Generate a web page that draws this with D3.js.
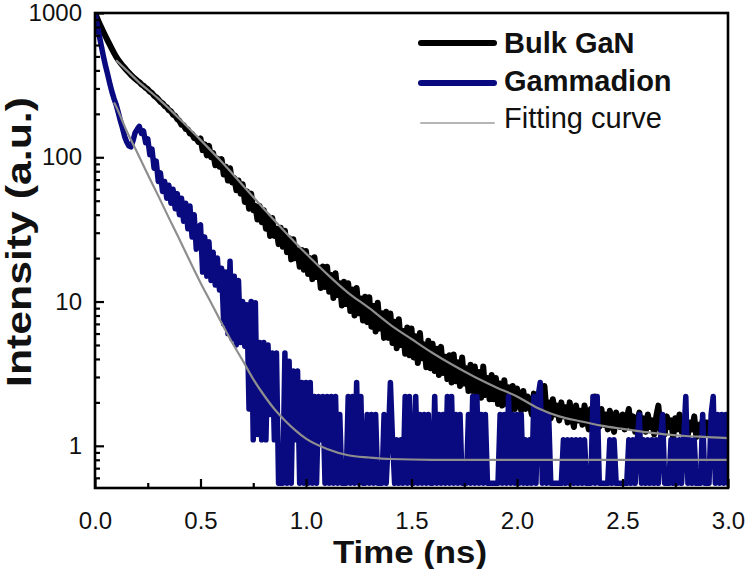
<!DOCTYPE html>
<html><head><meta charset="utf-8">
<script src="https://cdn.jsdelivr.net/npm/d3@7"></script>
<style>body{margin:0;background:#fff} svg{display:block} text{font-family:"Liberation Sans",Arial,sans-serif}</style>
</head><body><svg id="c" width="750" height="569"></svg>
<script>
// time step of the decay traces (ns)
const tStep = 0.01;
// Bulk GaN decay trace (a.u.), t = 0 .. 3 ns
const bulkGaN = [
1000, 925, 852, 792, 738, 690, 644, 603, 565, 530,
498, 473, 452, 434, 417, 401, 387, 373, 361, 350,
340, 332, 320, 313, 303, 296, 285, 279, 267, 261,
252, 242, 237, 227, 222, 212, 208, 197, 194, 184,
179, 168, 167, 157, 156, 146, 145, 136, 135, 128,
135, 112, 123, 103, 120, 100, 107, 88, 98, 86,
97, 76, 86, 69, 84, 67, 72, 59, 69, 56,
65, 49, 58, 44, 56, 43, 46, 37, 46, 35.5,
43, 32, 39, 28.5, 38, 28.5, 32, 25, 32.5, 24,
31, 22, 27.5, 19.6, 27, 20, 22.7, 17.4, 22.8, 16.6,
22.4, 15.5, 20, 14.3, 20.3, 14.8, 17.2, 12.4, 17.5, 12.6,
17.4, 11.7, 15.3, 10.6, 15.7, 11.1, 13.4, 9.4, 13.7, 9.6,
13.4, 8.6, 12.1, 8.0, 12.4, 8.3, 10.5, 7.4, 10.8, 7.2,
10.7, 6.7, 9.3, 6.2, 9.8, 6.5, 8.3, 5.6, 8.5, 5.6,
8.25, 5.15, 7.25, 4.75, 7.55, 5.0, 6.25, 4.35, 6.6, 4.25,
6.5, 4.1, 5.75, 3.75, 6.05, 4.05, 5.05, 3.5, 5.35, 3.45,
5.1, 3.3, 4.7, 3.1, 4.85, 3.2, 4.15, 2.9, 4.25, 2.75,
4.3, 2.8, 3.8, 2.6, 4.1, 2.7, 3.45, 2.4, 3.65, 2.4,
3.55, 2.3, 3.25, 2.15, 3.55, 2.25, 2.95, 2.1, 3.1, 2.1,
2.95, 1.95, 2.7, 1.9, 2.85, 1.95, 2.55, 1.75, 2.6, 1.8,
2.5, 2.1, 1.75, 2.4, 1.8, 2.2, 1.95, 1.65, 2.3, 1.7,
2.1, 1.85, 1.6, 2.6, 1.7, 2.0, 1.55, 2.1, 1.65, 1.9,
1.5, 2.0, 1.6, 1.85, 1.45, 2.0, 1.55, 1.35, 1.9, 1.5,
1.75, 1.4, 1.9, 1.55, 1.3, 1.8, 1.45, 2.2, 1.5, 1.35,
1.8, 1.4, 1.65, 1.3, 1.75, 1.45, 1.25, 1.7, 1.5, 1.35,
1.65, 1.3, 1.55, 1.8, 1.35, 1.6, 1.25, 1.5, 1.7, 1.3,
1.55, 1.25, 1.65, 1.35, 1.5, 1.2, 1.6, 1.9, 1.3, 1.45,
1.2, 1.6, 1.35, 1.5, 1.15, 1.55, 1.3, 1.65, 1.25, 1.4,
1.55, 1.2, 1.45, 1.3, 1.6, 1.15, 1.4, 1.25, 1.5, 1.2,
1.45, 1.3, 1.15, 1.5, 1.25, 1.55, 1.1, 1.4, 1.3, 1.2,
1.35
];
// Gammadion decay trace (a.u.), t = 0 .. 3 ns
const gammadion = [
1000, 830, 700, 590, 500, 430, 375, 325, 285, 255,
232, 205, 180, 160, 140, 128, 120, 118, 130, 148,
156, 164, 146, 152, 126, 134, 104, 114, 84, 94,
68, 78, 58, 68, 52, 64, 48, 60, 44, 56,
40, 52, 36, 48, 32, 46, 28, 40, 23, 33,
34, 16, 28, 15, 26, 14, 22, 13, 20, 12,
17, 7, 16, 6, 19, 5.5, 15, 5, 14, 5.2,
10, 4.9, 9.5, 1.8, 10, 1.1, 9.8, 1.2, 5.2, 1.1,
5.2, 1.1, 5.0, 1.65, 4.4, 1.1, 4.4, 0.55, 0.55, 0.55,
4.4, 0.55, 3.85, 0.55, 3.3, 1.1, 3.3, 0.55, 2.75, 0.55,
2.75, 0.55, 2.75, 0.55, 2.2, 0.55, 2.2, 1.1, 2.2, 0.55,
2.2, 0.55, 2.2, 0.55, 2.2, 0.55, 1.65, 0.55, 0.55, 0.55,
2.2, 0.55, 2.2, 0.55, 2.75, 0.55, 2.2, 0.55, 0.55, 1.65,
0.55, 1.65, 0.55, 1.65, 0.55, 0.55, 0.55, 1.65, 0.55, 1.1,
2.75, 1.1, 0.55, 1.1, 0.55, 1.1, 0.55, 2.2, 0.55, 2.2,
0.55, 0.55, 2.2, 0.55, 1.65, 0.55, 1.65, 0.55, 1.65, 0.55,
0.55, 2.2, 0.55, 1.65, 0.55, 1.65, 0.55, 2.2, 0.55, 2.2,
0.55, 1.65, 0.55, 1.65, 0.55, 0.55, 0.55, 1.65, 0.55, 2.2,
0.55, 2.2, 0.55, 1.65, 0.55, 1.65, 0.55, 0.55, 0.55, 0.55,
0.55, 0.55, 1.65, 0.55, 1.65, 0.55, 2.2, 0.55, 1.65, 0.55,
1.65, 0.55, 1.65, 0.55, 1.1, 0.55, 1.1, 0.55, 2.2, 0.55,
2.2, 2.75, 0.55, 1.65, 0.55, 1.65, 0.55, 0.55, 0.55, 0.55,
0.55, 0.55, 1.1, 0.55, 1.1, 0.55, 1.1, 0.55, 1.1, 0.55,
1.1, 0.55, 1.1, 0.55, 0.55, 0.55, 2.2, 0.55, 2.2, 0.55,
0.55, 0.55, 0.55, 0.55, 1.1, 0.55, 1.1, 0.55, 0.55, 0.55,
0.55, 0.55, 0.55, 1.1, 0.55, 1.1, 0.55, 1.1, 1.65, 0.55,
1.1, 0.55, 1.1, 0.55, 1.1, 0.55, 1.1, 0.55, 1.1, 1.65,
0.55, 0.55, 0.55, 1.1, 0.55, 1.1, 0.55, 1.1, 0.55, 1.1,
2.2, 0.55, 1.1, 0.55, 1.1, 0.55, 0.55, 0.55, 1.65, 0.55,
0.55, 0.55, 1.65, 2.2, 0.55, 1.65, 0.55, 1.65, 0.55, 1.65,
0.55
];
// Fitting curve: Bulk GaN
const fitBulkT = [0.1, 0.15, 0.2, 0.3, 0.4, 0.5, 0.6, 0.7, 0.8, 0.9, 1.0, 1.1, 1.2, 1.3, 1.4, 1.5, 1.6, 1.7, 1.8, 1.9, 2.0, 2.1, 2.2, 2.3, 2.4, 2.5, 2.6, 2.7, 2.8, 2.9, 3.0];
const fitBulkV = [470, 400, 340, 255, 185, 132, 93, 64, 44, 30.5, 21.5, 15.5, 11.5, 9.0, 6.9, 5.5, 4.4, 3.6, 3.0, 2.55, 2.2, 1.82, 1.6, 1.48, 1.38, 1.31, 1.25, 1.2, 1.17, 1.15, 1.13];
// Fitting curve: Gammadion
const fitGamT = [0.09, 0.1, 0.15, 0.2, 0.25, 0.3, 0.35, 0.4, 0.45, 0.5, 0.55, 0.6, 0.65, 0.7, 0.75, 0.8, 0.85, 0.9, 0.95, 1.0, 1.1, 1.2, 1.3, 1.4, 1.6, 2.0, 2.5, 3.0];
const fitGamV = [240, 225, 152, 108, 76, 54, 38, 27, 19, 13.5, 9.8, 7.1, 5.2, 3.9, 2.9, 2.25, 1.8, 1.5, 1.28, 1.12, 0.95, 0.86, 0.83, 0.81, 0.8, 0.8, 0.8, 0.8];

const xTicks = [0, 0.5, 1.0, 1.5, 2.0, 2.5, 3.0];
const xMinorTicks = [0.25, 0.75, 1.25, 1.75, 2.25, 2.75];
const yTicks = [1, 10, 100, 1000];
const seriesNames = ["Bulk GaN", "Gammadion", "Fitting curve"];
const xTitle = "Time (ns)";
const yTitle = "Intensity (a.u.)";

const svg = d3.select('#c');
const P = {l: 95, r: 728, t: 13, b: 488};
const x = d3.scaleLinear().domain([0, 3]).range([P.l, P.r]);
const y = d3.scaleLog().domain([0.51, 1000]).range([P.b, P.t]);

const C = {bulk: '#000000', gam: '#0a0a80', fit: '#8e8e8e', fitLegend: '#b5b5b5'};

svg.append('rect').attr('width', 750).attr('height', 569).attr('fill', '#fff');

svg.append('defs').append('clipPath').attr('id', 'clip')
  .append('rect').attr('x', P.l).attr('y', P.t).attr('width', P.r - P.l).attr('height', P.b - P.t);

const plot = svg.append('g').attr('clip-path', 'url(#clip)');
const trace = d3.line().x((d, i) => x(i * tStep)).y(d => y(d));
const fitLine = d3.line().x(d => x(d[0])).y(d => y(d[1])).curve(d3.curveMonotoneX);

plot.append('path').datum(bulkGaN).attr('d', trace)
  .attr('fill', 'none').attr('stroke', C.bulk).attr('stroke-width', 6)
  .attr('stroke-linejoin', 'round').attr('stroke-linecap', 'round');
plot.append('path').datum(gammadion).attr('d', trace)
  .attr('fill', 'none').attr('stroke', C.gam).attr('stroke-width', 5.5)
  .attr('stroke-linejoin', 'round').attr('stroke-linecap', 'round');
plot.append('path').datum(fitBulkT.map((t, i) => [t, fitBulkV[i]])).attr('d', fitLine)
  .attr('fill', 'none').attr('stroke', C.fit).attr('stroke-width', 2.2);
plot.append('path').datum(fitGamT.map((t, i) => [t, fitGamV[i]])).attr('d', fitLine)
  .attr('fill', 'none').attr('stroke', C.fit).attr('stroke-width', 2.2);

// axes (inward ticks)
const fs = 24;
const gx = svg.append('g').attr('transform', `translate(0,${P.b})`)
  .call(d3.axisBottom(x).tickValues(xTicks).tickSize(-9).tickPadding(24).tickFormat(d3.format('.1f')));
const gxm = svg.append('g').attr('transform', `translate(0,${P.b})`)
  .call(d3.axisBottom(x).tickValues(xMinorTicks).tickSize(-5).tickFormat(''));
const yMinor = [];
[0.1, 1, 10, 100].forEach(e => { for (let k = 2; k <= 9; k++) { const v = k * e; if (v >= 0.51 && v < 1000) yMinor.push(v); } });
const gy = svg.append('g').attr('transform', `translate(${P.l},0)`)
  .call(d3.axisLeft(y).tickValues(yTicks).tickSize(-9).tickPadding(13).tickFormat(d => String(d)));
const gym = svg.append('g').attr('transform', `translate(${P.l},0)`)
  .call(d3.axisLeft(y).tickValues(yMinor).tickSize(-5).tickFormat(''));
[gx, gxm, gy, gym].forEach(g => {
  g.select('.domain').remove();
  g.selectAll('line').attr('stroke', '#000').attr('stroke-width', 2.2);
  g.selectAll('text').attr('font-size', fs).attr('fill', '#111')
    .attr('font-family', '"Liberation Sans", Arial, sans-serif');
});

// frame
svg.append('rect').attr('x', P.l).attr('y', P.t).attr('width', P.r - P.l).attr('height', P.b - P.t)
  .attr('fill', 'none').attr('stroke', '#000').attr('stroke-width', 2.6);

// titles
svg.append('text').attr('x', 410).attr('y', 563).attr('text-anchor', 'middle')
  .attr('font-size', 32).attr('font-weight', 'bold').attr('fill', '#111')
  .attr('textLength', 154).attr('lengthAdjust', 'spacingAndGlyphs').text(xTitle);
svg.append('text').attr('transform', 'translate(31,242) rotate(-90)').attr('text-anchor', 'middle')
  .attr('font-size', 35).attr('font-weight', 'bold').attr('fill', '#111')
  .attr('textLength', 290).attr('lengthAdjust', 'spacingAndGlyphs').text(yTitle);

// legend
const lg = svg.append('g');
const legStyle = [
  {c: C.bulk, w: 6, bold: true},
  {c: C.gam, w: 6, bold: true},
  {c: C.fitLegend, w: 2, bold: false}
];
seriesNames.forEach((name, i) => {
  const ly = 43 + i * 40;
  lg.append('line').attr('x1', 421).attr('x2', 494).attr('y1', ly).attr('y2', ly)
    .attr('stroke', legStyle[i].c).attr('stroke-width', legStyle[i].w).attr('stroke-linecap', 'round');
  lg.append('text').attr('x', 504).attr('y', 53 + i * 37.5).attr('font-size', 29)
    .attr('font-weight', legStyle[i].bold ? 'bold' : 'normal').attr('fill', '#111').text(name);
});
</script>
</body></html>
